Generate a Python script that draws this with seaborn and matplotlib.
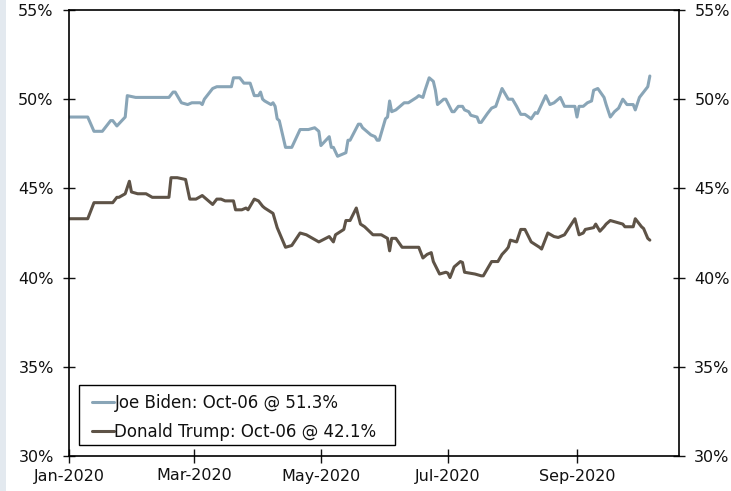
import matplotlib
matplotlib.use("Agg")
import matplotlib.pyplot as plt
import matplotlib.dates as mdates
from matplotlib.ticker import FuncFormatter
from matplotlib.patches import Rectangle
import pandas as pd
import seaborn as sns

biden_dates = [
    "01-01", "01-10", "01-13", "01-17", "01-21", "01-22", "01-24", "01-28", "01-29", "02-02",
    "02-18", "02-20", "02-21", "02-24", "02-27", "02-29", "03-04", "03-05", "03-06", "03-10",
    "03-12", "03-19", "03-20", "03-23", "03-25", "03-28", "03-30", "04-01", "04-02", "04-03",
    "04-04", "04-07", "04-08", "04-09", "04-10", "04-11", "04-14", "04-17", "04-21", "04-25",
    "04-28", "04-30", "05-01", "05-05", "05-06", "05-07", "05-09", "05-13", "05-14", "05-15",
    "05-19", "05-20", "05-21", "05-25", "05-27", "05-28", "05-29", "06-01", "06-02", "06-03",
    "06-04", "06-06", "06-10", "06-12", "06-16", "06-17", "06-19", "06-20", "06-22", "06-24",
    "06-25", "06-26", "06-29", "06-30", "07-03", "07-04", "07-06", "07-08", "07-09", "07-11",
    "07-12", "07-15", "07-16", "07-17", "07-20", "07-22", "07-24", "07-27", "07-28", "07-30",
    "08-01", "08-03", "08-05", "08-07", "08-10", "08-12", "08-13", "08-17", "08-19", "08-21",
    "08-24", "08-26", "08-31", "09-01", "09-02", "09-04", "09-06", "09-08", "09-09", "09-11",
    "09-14", "09-15", "09-17", "09-19", "09-21", "09-23", "09-25", "09-28", "09-29", "10-01",
    "10-03", "10-05", "10-06",
]
biden_values = [
    49.0, 49.0, 48.2, 48.2, 48.8, 48.8, 48.5, 49.0, 50.2, 50.1,
    50.1, 50.4, 50.4, 49.8, 49.7, 49.8, 49.8, 49.7, 50.0, 50.6,
    50.7, 50.7, 51.2, 51.2, 50.9, 50.9, 50.2, 50.2, 50.4, 50.0,
    49.9, 49.7, 49.8, 49.6, 48.9, 48.8, 47.3, 47.3, 48.3, 48.3,
    48.4, 48.2, 47.4, 47.9, 47.3, 47.3, 46.8, 47.0, 47.7, 47.7,
    48.6, 48.6, 48.4, 48.0, 47.9, 47.7, 47.7, 48.9, 49.0, 49.9,
    49.3, 49.4, 49.8, 49.8, 50.1, 50.2, 50.1, 50.5, 51.2, 51.0,
    50.5, 49.7, 50.0, 50.0, 49.3, 49.3, 49.6, 49.6, 49.4, 49.3,
    49.1, 49.0, 48.7, 48.7, 49.2, 49.5, 49.6, 50.6, 50.4, 50.0,
    50.0, 49.6, 49.15, 49.15, 48.9, 49.25, 49.2, 50.2, 49.7, 49.8,
    50.1, 49.6, 49.6, 49.0, 49.6, 49.6, 49.8, 49.9, 50.5, 50.6,
    50.1, 49.7, 49.0, 49.3, 49.5, 50.0, 49.7, 49.7, 49.4, 50.1,
    50.4, 50.7, 51.3,
]

trump_dates = [
    "01-01", "01-10", "01-13", "01-22", "01-24", "01-25", "01-28", "01-30", "01-31", "02-03",
    "02-07", "02-10", "02-18", "02-19", "02-22", "02-26", "02-28", "03-02", "03-05", "03-07",
    "03-10", "03-12", "03-14", "03-16", "03-20", "03-21", "03-24", "03-26", "03-27", "03-30",
    "04-01", "04-03", "04-04", "04-08", "04-10", "04-14", "04-17", "04-21", "04-24", "04-30",
    "05-05", "05-07", "05-08", "05-12", "05-13", "05-15", "05-18", "05-20", "05-22", "05-26",
    "05-30", "06-02", "06-03", "06-04", "06-06", "06-09", "06-17", "06-19", "06-21", "06-23",
    "06-24", "06-27", "06-30", "07-01", "07-02", "07-04", "07-07", "07-08", "07-09", "07-14",
    "07-17", "07-18", "07-21", "07-22", "07-25", "07-27", "07-29", "07-30", "07-31", "08-03",
    "08-05", "08-07", "08-10", "08-14", "08-15", "08-18", "08-21", "08-23", "08-26", "08-31",
    "09-02", "09-04", "09-05", "09-09", "09-10", "09-12", "09-14", "09-15", "09-17", "09-20",
    "09-23", "09-24", "09-28", "09-29", "10-02", "10-03", "10-05", "10-06",
]
trump_values = [
    43.3, 43.3, 44.2, 44.2, 44.5, 44.5, 44.7, 45.4, 44.8, 44.7,
    44.7, 44.5, 44.5, 45.6, 45.6, 45.5, 44.4, 44.4, 44.6, 44.4,
    44.1, 44.4, 44.4, 44.3, 44.3, 43.8, 43.8, 43.9, 43.8, 44.4,
    44.3, 44.0, 43.9, 43.6, 42.8, 41.7, 41.8, 42.5, 42.4, 42.0,
    42.3, 42.0, 42.4, 42.7, 43.2, 43.2, 43.9, 43.0, 42.85, 42.4,
    42.4, 42.2, 41.5, 42.2, 42.2, 41.7, 41.7, 41.1, 41.3, 41.4,
    40.9, 40.2, 40.3, 40.25, 40.0, 40.6, 40.9, 40.85, 40.3, 40.2,
    40.1, 40.1, 40.7, 40.9, 40.9, 41.3, 41.55, 41.7, 42.1, 42.0,
    42.7, 42.7, 42.0, 41.7, 41.6, 42.5, 42.3, 42.25, 42.4, 43.3,
    42.4, 42.5, 42.7, 42.8, 43.0, 42.6, 42.85, 43.0, 43.2, 43.1,
    43.0, 42.85, 42.85, 43.3, 42.85, 42.75, 42.2, 42.1,
]

names = ["Joe Biden", "Donald Trump"]
colors = ["#89A5B7", "#5E5347"]
y_ticks = [30, 35, 40, 45, 50, 55]
x_ticks = ["2020-01-01", "2020-03-01", "2020-05-01", "2020-07-01", "2020-09-01"]

def build(name, dates, values):
    d = pd.to_datetime(["2020-" + s for s in dates])
    last = d[-1].strftime("%b-%d")
    label = f"{name}: {last} @ {values[-1]:.1f}%"
    return pd.DataFrame({"date": d, "value": values, "series": label}), label

df_b, lab_b = build(names[0], biden_dates, biden_values)
df_t, lab_t = build(names[1], trump_dates, trump_values)
df = pd.concat([df_b, df_t], ignore_index=True)

sns.set_style("white")
plt.rcParams["font.family"] = ["DejaVu Sans"]

W, H = 731, 491
fig = plt.figure(figsize=(W / 100, H / 100), dpi=100)
fig.patches.append(Rectangle((0, 0), 6 / W, 1, transform=fig.transFigure,
                             facecolor="#E3E9EF", edgecolor="none", zorder=0))
ax = fig.add_axes([69 / W, 1 - 456 / H, (679 - 69) / W, (456 - 10) / H])

sns.lineplot(data=df, x="date", y="value", hue="series",
             palette={lab_b: colors[0], lab_t: colors[1]},
             linewidth=2.2, ax=ax, estimator=None)

# legend frame drawn as a box in the axes, legend entries placed inside it
frame = Rectangle((79 / W, 1 - 445 / H), 316 / W, 60 / H,
                  transform=fig.transFigure, facecolor="white",
                  edgecolor="black", linewidth=1.0, zorder=3, clip_on=False)
ax.add_artist(frame)

ax.set_ylim(30, 55)
ax.set_xlim(pd.Timestamp("2020-01-01"), pd.Timestamp("2020-10-20"))
ax.set_yticks(y_ticks)
ax.yaxis.set_major_formatter(FuncFormatter(lambda v, p: f"{v:.0f}%"))
ax.set_xticks(pd.to_datetime(x_ticks))
ax.xaxis.set_major_formatter(mdates.DateFormatter("%b-%Y"))
ax.set_xlabel("")
ax.set_ylabel("")

for s in ax.spines.values():
    s.set_visible(True)
    s.set_color("black")
    s.set_linewidth(1.2)

ax.tick_params(axis="y", which="major", direction="inout", length=9, width=1,
               left=True, right=True, labelleft=True, labelright=True,
               labelsize=11.5, colors="#111111", pad=6.5)
ax.tick_params(axis="x", which="major", direction="inout", length=10, width=1,
               bottom=True, labelsize=11.5, colors="#111111", pad=4)

leg = ax.legend(loc="upper left", bbox_to_anchor=(92 / W, 1 - 394 / H),
                bbox_transform=fig.transFigure, fontsize=12, frameon=False,
                handlelength=1.3, handletextpad=0.05, labelspacing=0.67,
                borderpad=0, borderaxespad=0)
leg.set_zorder(5)
for t in leg.get_texts():
    t.set_color("#111111")

fig.savefig("out.png", dpi=100)
